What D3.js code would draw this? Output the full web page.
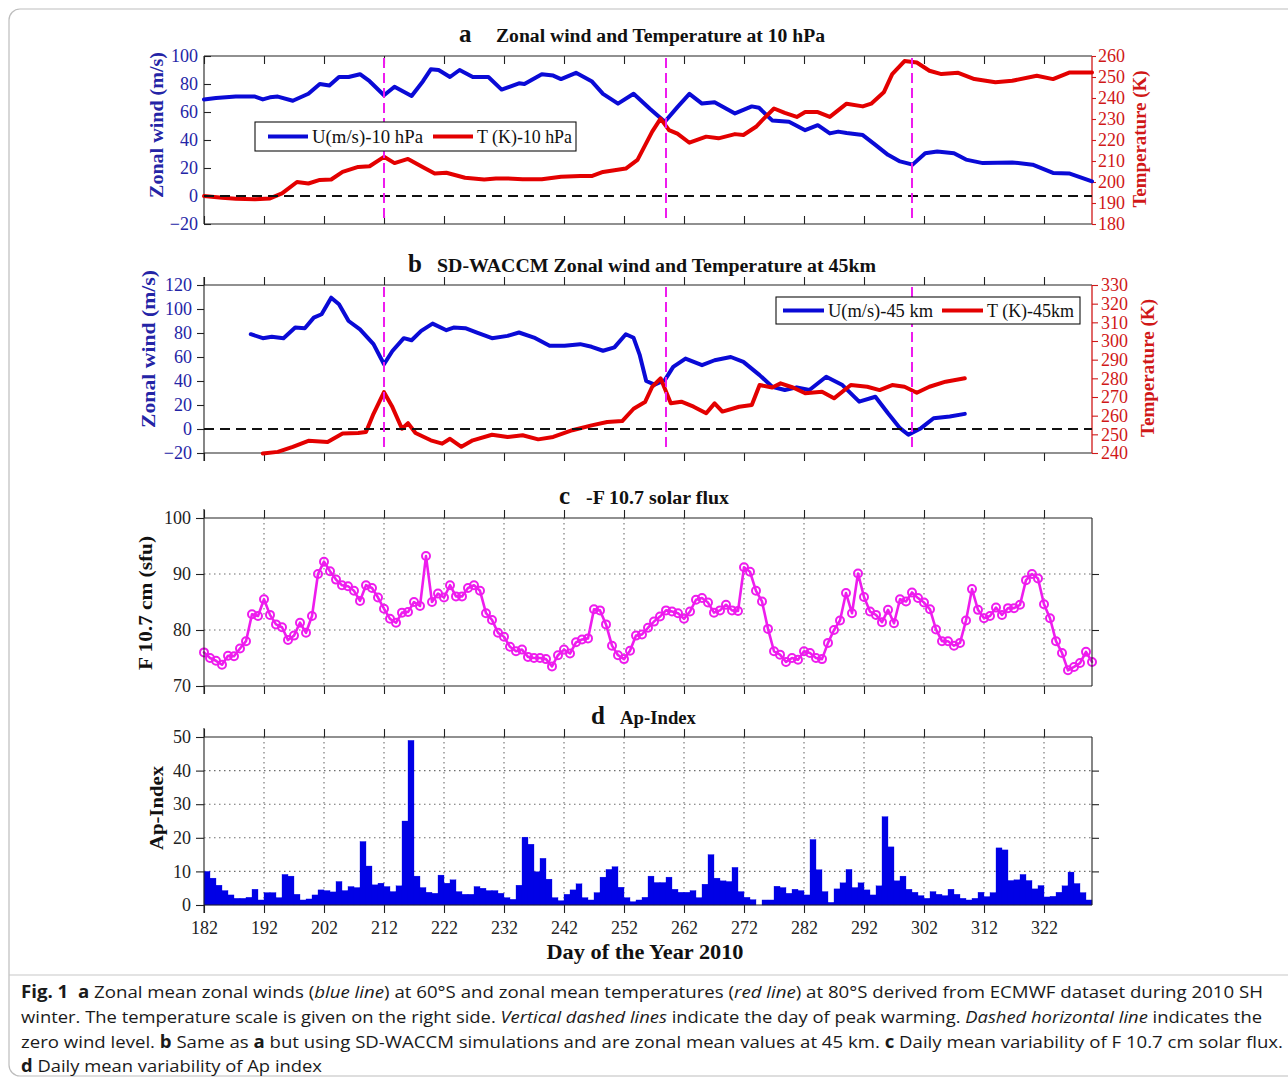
<!DOCTYPE html>
<html>
<head>
<meta charset="utf-8">
<script src="https://cdn.jsdelivr.net/npm/d3@7"></script>
<style>
  body { margin: 0; background: #fff; }
  svg { display: block; }
</style>
</head>
<body>
<svg id="fig" width="1288" height="1084"></svg>
<script>
// ---------------- data ----------------
const dayTicks = [182, 192, 202, 212, 222, 232, 242, 252, 262, 272, 282, 292, 302, 312, 322];
const peakWarmingDays = [212, 259, 300];

// (a) ECMWF 10 hPa: zonal wind at 60°S (m/s), [day, value]
const wind10hPa = [[182,69],[184,70],[187.3,71],[190.5,71],[191.8,69],[193,70.5],[194.3,71],[196.8,68],[199.4,73],[201.3,80],[202.9,79],[204.5,85],[206.1,85],[208,87],[209.6,82],[212,72],[213.75,78],[216.6,71.5],[218.5,82],[219.8,90.5],[221.1,90],[223,85],[224.6,90],[226.8,85],[229.4,85],[231.6,76],[234.5,80.5],[235.4,80],[238.3,87],[240.2,86],[241.5,83.5],[244,88],[246.6,82],[248.5,73],[251,66],[253.6,73],[256.4,62],[258.8,53],[260.9,63.5],[262.9,73],[265,66],[267.1,67],[270.5,59],[273.3,64],[274.5,63],[276.7,54],[279.5,53],[282.2,47],[284.3,50.6],[286.3,44.7],[287.7,46],[289.1,45],[291.8,43.5],[293.9,36.5],[296,29.4],[298,24.7],[300.1,22.4],[302.2,30.6],[304.2,31.8],[307,30.6],[309,26],[311.8,23.5],[316.7,24],[320.1,22.4],[323.5,16.5],[326.3,16],[330,10.5]];

// (a) ECMWF 10 hPa: zonal mean temperature at 80°S (K)
const temp10hPa = [[182,193.3],[185,192.5],[187.3,192],[190.5,191.8],[193,192.2],[195,194.6],[197.5,200],[199.4,199.3],[201.3,201],[203.2,201.2],[205.1,204.8],[207.7,207.2],[209.6,207.5],[212,212],[213.75,209],[216,211],[218.5,207],[220.45,204],[222.4,204.4],[225.5,202],[228.7,201.2],[230.65,201.7],[232.6,201.7],[235.1,201.3],[238.3,201.3],[241.5,202.5],[244.7,202.8],[246.6,202.8],[248.5,204.8],[250.4,205.6],[252.3,206.4],[254.25,210.5],[256.7,224],[258.1,230.2],[259.5,224.7],[260.9,223],[262.9,218.7],[265.7,221.6],[267.75,220.8],[270.5,222.8],[271.9,222.4],[274,226.3],[275.3,230.2],[277,235],[278.8,232.9],[280.8,231],[282.2,233.3],[284.3,233.3],[286.3,231],[289.1,237.3],[291.8,236],[293.2,237.3],[295.3,242.7],[296.7,251.4],[298.75,257.6],[300.8,256.9],[302.9,253],[304.9,251.4],[307.7,252],[310.4,249],[313.9,247.5],[316.7,248.2],[320.8,250.6],[323.5,249],[326.3,252.2],[330,252.2]];

// (b) SD-WACCM 45 km: zonal wind (m/s)
const wind45km = [[189.8,79],[191.8,75.7],[193.3,76.8],[195.25,75.7],[197.2,84.5],[198.8,84],[200.3,92.8],[201.6,95.6],[203.2,109.4],[204.5,104],[206.1,90],[208,83],[210.25,70.7],[212,54],[213.4,65],[215.3,75.7],[216.6,74],[218.2,81.8],[220.1,87.8],[222.4,82.3],[223.6,84.5],[225.55,84],[227.5,80.4],[230,75.7],[232.6,77.6],[234.5,80.4],[237,76.2],[239.6,69.3],[242.1,69.3],[244.7,70.7],[246.6,68.5],[248.5,65.2],[250.4,68],[252.3,79],[253.6,76],[254.6,62],[255.7,40],[257.1,37],[258.8,40.7],[260.2,51.8],[262.25,58.7],[265,53.2],[267.1,57.3],[269.8,60],[271.9,55.9],[274.6,44.9],[276.7,35.2],[278.8,32.5],[280.8,34.7],[282.9,32.5],[285.7,43.5],[288.4,36.6],[291.2,22.8],[293.9,26.9],[296,13.1],[298,0.7],[299.4,-4.8],[301.5,0.7],[303.6,9],[306.3,10.4],[308.8,12.6]];

// (b) SD-WACCM 45 km: temperature (K)
const temp45km = [[191.8,239.7],[194.3,240.6],[196.8,243.3],[199.4,246.5],[202.6,245.9],[205.1,250.4],[207.7,250.7],[209,251.2],[210.25,261],[212,272.6],[213.4,264.6],[215,253],[216,256],[217.25,250.7],[219.8,246.8],[221.7,245],[223,247.6],[224.9,243.3],[226.8,246.8],[230,249.8],[232.6,248.6],[235.1,249.5],[237.7,247.3],[240.2,248.6],[243.4,252.2],[246.6,254.8],[249.2,256.6],[251.7,257.1],[253.6,263.7],[255.5,267.3],[256.7,275.5],[258.1,280],[259.8,266.6],[261.55,267.5],[263.6,264.8],[265.7,261.3],[267.1,266.6],[268.4,262.2],[271.2,264.8],[273.3,265.7],[274.6,276.4],[276.7,275.1],[278.1,277.3],[280.15,275.1],[282.2,272],[285,272.8],[287,269.3],[289.8,276.4],[292.55,275.5],[294.6,273.7],[296.7,276.4],[298.75,275.5],[300.8,272.3],[302.9,275.5],[305.6,278.2],[308.8,280]];

// (c) daily F10.7 cm solar flux (sfu), days 182..330
const f107FirstDay = 182;
const f107 = [76,75,74.5,73.8,75.4,75.3,76.7,78,82.8,82.5,85.5,82.7,81,80.5,78.2,79,81.3,79.5,82.5,90,
  92.2,90.5,89,88,87.8,87,85.2,88,87.5,85.8,83.8,82,81.3,83.1,83.2,85,84.3,93.2,85,86.5,
  85.8,88,86,86,87.5,88,87,83,81.8,79.5,78.8,77,76.2,76.5,75.2,75,75,74.8,73.5,75.5,
  76.5,75.8,77.8,78.3,78.5,83.7,83.5,81,77.2,75.5,74.8,76.3,79,79.2,80.4,81.5,82.4,83.5,83.3,83,
  82,83.3,85.4,85.7,84.9,83.1,83.5,84.5,83.5,83.4,91.2,90.4,87,85.1,80.2,76.2,75.6,74.3,75,74.7,
  76.2,75.9,75,74.8,77.7,80,81.7,86.6,83,90.1,85.9,83.3,82.7,81.4,83.6,81.2,85.5,85.1,86.7,85.7,
  84.9,83.7,80.1,78,78,77.2,77.7,81.7,87.3,83.6,82.1,82.5,84,82.7,83.9,83.9,84.5,88.9,90,89.2,
  84.6,82.1,78,75.9,72.8,73.4,74.1,76.1,74.3];

// (d) daily Ap index, days 182..329
const apFirstDay = 182;
const apIndex = [10,8,5.9,4.3,3,2,2,2.3,4.7,1.5,3.7,3.7,2.2,9.1,8.6,3.2,1.5,1.8,3,4.5,
  4.3,3.9,7,4.3,5.5,5.2,18.9,11.6,6,6.5,5.5,4,5.7,25,49,8.6,5.2,3.8,3.5,8.9,
  6.5,7.5,4,3.2,3.2,5.5,5,4.3,4.3,3.5,2.2,1.7,5.9,20.2,18.1,9.9,13.9,7.7,2.2,1.3,
  3.2,4.5,6.3,2.2,1.5,3.7,8.3,10.6,11.4,5.3,2.2,1,1.5,2.3,8.6,6.7,6.7,8.3,4.7,3.8,
  3.8,4.3,2.2,6.2,15,8,7.2,7,11.2,4,2.3,1.6,0,1.5,1.5,5.6,5.2,3.5,4.7,4.3,
  3,19.5,10.5,4,0.8,4.8,6.6,10.6,5.2,6.6,4.5,3,5.7,26.3,17.3,7.2,8.6,4.7,3.8,2.8,
  2,4,3.2,2.8,4.7,3.2,2,1.5,2,3.8,2.5,3.7,17,16.4,7.3,7.5,9.1,7.3,4.8,5.8,
  2.4,2.6,3.8,5.7,9.8,6.4,3.7,1.5];

const windTicksA = [-20, 0, 20, 40, 60, 80, 100];
const tempTicksA = [180, 190, 200, 210, 220, 230, 240, 250, 260];
const windTicksB = [-20, 0, 20, 40, 60, 80, 100, 120];
const tempTicksB = [240, 250, 260, 270, 280, 290, 300, 310, 320, 330];
const fluxTicks = [70, 80, 90, 100];
const apTicks = [0, 10, 20, 30, 40, 50];

// ---------------- layout & style ----------------
const svg = d3.select("#fig");
const SERIF = "'Liberation Serif','Times New Roman',serif";
const SANS = "'Liberation Sans Narrow','Open Sans','Liberation Sans',sans-serif";
const BLUE = "#0a0ad6", RED = "#e30000", MAG = "#ee1cee", BAR = "#0000e6";
const BLUE_TXT = "#2424a6", RED_TXT = "#d01818";
const AXIS = "#222";
const L = 204, R = 1092, PH = 168;
const tops = { a: 56, b: 285, c: 518, d: 737 };

const x = d3.scaleLinear().domain([182, 330]).range([L, R]);

function yScale(domain, top) {
  return d3.scaleLinear().domain(domain).range([top + PH, top]);
}
const yWindA = yScale([-20, 100], tops.a), yTempA = yScale([180, 260], tops.a);
const yWindB = yScale([-20, 120], tops.b), yTempB = yScale([240, 330], tops.b);
const yFlux = yScale([70, 100], tops.c);
const yAp = yScale([0, 50], tops.d);

// outer figure border and caption separator
svg.append("rect").attr("x", 9).attr("y", 9).attr("width", 1320).attr("height", 1067)
  .attr("rx", 11).attr("fill", "none").attr("stroke", "#bdbdbd").attr("stroke-width", 1.2);
svg.append("line").attr("x1", 9).attr("x2", 1288).attr("y1", 975).attr("y2", 975)
  .attr("stroke", "#c8c8c8").attr("stroke-width", 1.2);

function styleTicks(sel, color, size) {
  sel.select(".domain").remove();
  sel.selectAll(".tick line").attr("stroke", color).attr("stroke-width", 1.1);
  sel.selectAll(".tick text").attr("fill", color).attr("font-family", SERIF)
    .attr("font-size", size || 18);
}

function xTickRow(y, axisFn, len, labels) {
  const ax = axisFn(x).tickValues(dayTicks).tickSize(len).tickSizeOuter(0);
  if (!labels) ax.tickFormat("");
  else ax.tickFormat(d3.format("d")).tickPadding(8);
  svg.append("g").attr("transform", `translate(0,${y})`).call(ax).call(s => styleTicks(s, AXIS, 18));
}

function hline(y, x1, x2, color, w) {
  svg.append("line").attr("x1", x1).attr("x2", x2).attr("y1", y).attr("y2", y)
    .attr("stroke", color).attr("stroke-width", w || 1.1);
}
function vline(xp, y1, y2, color, w) {
  svg.append("line").attr("x1", xp).attr("x2", xp).attr("y1", y1).attr("y2", y2)
    .attr("stroke", color).attr("stroke-width", w || 1.1);
}

function panelTitle(letter, letterX, text, textX, textW, baseline) {
  svg.append("text").attr("x", letterX).attr("y", baseline).attr("font-family", SERIF)
    .attr("font-weight", 700).attr("font-size", 25).attr("fill", "#111").text(letter);
  svg.append("text").attr("x", textX).attr("y", baseline).attr("font-family", SERIF)
    .attr("font-weight", 700).attr("font-size", 18).attr("fill", "#111")
    .attr("textLength", textW).attr("lengthAdjust", "spacingAndGlyphs").text(text);
}

function axisTitle(text, cx, cy, len, color) {
  svg.append("text").attr("transform", `translate(${cx},${cy}) rotate(-90)`)
    .attr("text-anchor", "middle").attr("dominant-baseline", "central")
    .attr("font-family", SERIF).attr("font-weight", 700).attr("font-size", 19)
    .attr("fill", color).attr("textLength", len).attr("lengthAdjust", "spacingAndGlyphs").text(text);
}

function seriesLine(data, y, color, width) {
  svg.append("path").datum(data)
    .attr("d", d3.line().x(d => x(d[0])).y(d => y(d[1])))
    .attr("fill", "none").attr("stroke", color).attr("stroke-width", width)
    .attr("stroke-linejoin", "round").attr("stroke-linecap", "round");
}

function zeroLine(y) {
  svg.append("line").attr("x1", L).attr("x2", R).attr("y1", y(0)).attr("y2", y(0))
    .attr("stroke", "#111").attr("stroke-width", 2).attr("stroke-dasharray", "10,6");
}
function warmingLines(top) {
  svg.selectAll(null).data(peakWarmingDays).enter().append("line")
    .attr("x1", d => x(d)).attr("x2", d => x(d))
    .attr("y1", top + 2).attr("y2", top + PH - 2)
    .attr("stroke", MAG).attr("stroke-width", 2).attr("stroke-dasharray", "10,5");
}

function legend(bx, by, bw, bh, items) {
  svg.append("rect").attr("x", bx).attr("y", by).attr("width", bw).attr("height", bh)
    .attr("fill", "#fff").attr("stroke", "#111").attr("stroke-width", 1.1);
  const cy = by + bh / 2;
  items.forEach(it => {
    svg.append("line").attr("x1", it.x1).attr("x2", it.x2).attr("y1", cy).attr("y2", cy)
      .attr("stroke", it.color).attr("stroke-width", 4);
    svg.append("text").attr("x", it.tx).attr("y", cy + 6).attr("font-family", SERIF)
      .attr("font-size", 18).attr("fill", "#111").attr("textLength", it.tw)
      .attr("lengthAdjust", "spacingAndGlyphs").text(it.label);
  });
}

// ---------------- panel a ----------------
{
  const top = tops.a, bot = top + PH;
  svg.append("g").attr("transform", `translate(${L},0)`)
    .call(d3.axisLeft(yWindA).tickValues(windTicksA).tickSize(-7).tickPadding(6))
    .call(s => styleTicks(s, BLUE_TXT, 18))
    .call(s => s.selectAll(".tick line").attr("stroke", AXIS));
  svg.append("g").attr("transform", `translate(${R},0)`)
    .call(d3.axisRight(yTempA).tickValues(tempTicksA).tickSize(4).tickPadding(2))
    .call(s => styleTicks(s, RED_TXT, 18));
  xTickRow(top, d3.axisTop, -8, false);
  xTickRow(bot, d3.axisBottom, -8, false);
  hline(top, L, R, AXIS); hline(bot, L, R, AXIS);
  vline(L, top, bot, AXIS); vline(R, top, bot, RED_TXT, 1.3);

  seriesLine(wind10hPa, yWindA, BLUE, 4);
  seriesLine(temp10hPa, yTempA, RED, 4);
  zeroLine(yWindA);
  warmingLines(top);
  legend(255, 122, 321, 29, [
    { x1: 268, x2: 308, color: BLUE, tx: 312, tw: 111, label: "U(m/s)-10 hPa" },
    { x1: 433, x2: 473, color: RED, tx: 477, tw: 95, label: "T (K)-10 hPa" }
  ]);
  panelTitle("a", 459, "Zonal wind and Temperature at 10 hPa", 496, 329, 42);
  axisTitle("Zonal wind (m/s)", 156, 125, 146, BLUE_TXT);
  axisTitle("Temperature (K)", 1139, 139, 137, RED_TXT);
}

// ---------------- panel b ----------------
{
  const top = tops.b, bot = top + PH;
  svg.append("g").attr("transform", `translate(${L},0)`)
    .call(d3.axisLeft(yWindB).tickValues(windTicksB).tickSize(7).tickPadding(5))
    .call(s => styleTicks(s, BLUE_TXT, 18))
    .call(s => s.selectAll(".tick line").attr("stroke", AXIS));
  svg.append("g").attr("transform", `translate(${R},0)`)
    .call(d3.axisRight(yTempB).tickValues(tempTicksB).tickSize(6).tickPadding(3))
    .call(s => styleTicks(s, RED_TXT, 18));
  xTickRow(top, d3.axisTop, 8, false);
  xTickRow(bot, d3.axisBottom, 8, false);
  hline(top, L, R, AXIS); hline(bot, L, R, AXIS);
  vline(L, top - 8, bot + 8, AXIS); vline(R, top, bot, RED_TXT, 1.3);

  seriesLine(wind45km, yWindB, BLUE, 4);
  seriesLine(temp45km, yTempB, RED, 4);
  zeroLine(yWindB);
  warmingLines(top);
  legend(776, 297, 304, 27, [
    { x1: 783, x2: 824, color: BLUE, tx: 828, tw: 105, label: "U(m/s)-45 km" },
    { x1: 942, x2: 983, color: RED, tx: 987, tw: 87, label: "T (K)-45km" }
  ]);
  panelTitle("b", 408, "SD-WACCM Zonal wind and Temperature at 45km", 437, 439, 272);
  axisTitle("Zonal wind (m/s)", 148, 349, 158, BLUE_TXT);
  axisTitle("Temperature (K)", 1147, 368, 138, RED_TXT);
}

// ---------------- shared frame for panels c, d ----------------
function gridFrame(top, y, ticks, gridVals) {
  const bot = top + PH;
  const grid = svg.append("g").attr("stroke", "#6d6d6d").attr("stroke-width", 1.1)
    .attr("stroke-dasharray", "1.5,3.5");
  grid.selectAll(null).data(dayTicks.slice(1)).enter().append("line")
    .attr("x1", d => x(d)).attr("x2", d => x(d)).attr("y1", top).attr("y2", bot);
  grid.selectAll(null).data(gridVals).enter().append("line")
    .attr("x1", L).attr("x2", R).attr("y1", d => y(d)).attr("y2", d => y(d));
}
function frameAxes(top, y, ticks, innerVals, xLabels) {
  const bot = top + PH;
  svg.append("g").attr("transform", `translate(${L},0)`)
    .call(d3.axisLeft(y).tickValues(ticks).tickSize(8).tickPadding(5))
    .call(s => styleTicks(s, AXIS, 18));
  svg.append("g").attr("transform", `translate(${R},0)`)
    .call(d3.axisRight(y).tickValues(innerVals).tickSize(7).tickFormat(""))
    .call(s => styleTicks(s, AXIS, 18));
  xTickRow(top, d3.axisTop, 8, false);
  xTickRow(bot, d3.axisBottom, 8, xLabels);
  hline(top, L, R, AXIS); hline(bot, L, R, AXIS);
  vline(L, top - 9, bot + 8, AXIS); vline(R, top, bot, AXIS);
}

// ---------------- panel c ----------------
{
  const top = tops.c;
  gridFrame(top, yFlux, fluxTicks, [80, 90]);
  const pts = f107.map((v, i) => [f107FirstDay + i, v]);
  seriesLine(pts, yFlux, MAG, 2.6);
  svg.append("g").selectAll("circle").data(pts).enter().append("circle")
    .attr("cx", d => x(d[0])).attr("cy", d => yFlux(d[1])).attr("r", 4)
    .attr("fill", "none").attr("stroke", MAG).attr("stroke-width", 2);
  frameAxes(top, yFlux, fluxTicks, [80, 90], false);
  panelTitle("c", 559, "-F 10.7 solar flux", 586, 143, 504);
  axisTitle("F 10.7 cm (sfu)", 145, 603, 134, "#111");
}

// ---------------- panel d ----------------
{
  const top = tops.d;
  gridFrame(top, yAp, apTicks, [10, 20, 30, 40]);
  svg.append("g").selectAll("rect").data(apIndex).enter().append("rect")
    .attr("x", (d, i) => x(apFirstDay + i))
    .attr("width", (d, i) => x(apFirstDay + i + 1) - x(apFirstDay + i))
    .attr("y", d => yAp(d)).attr("height", d => yAp(0) - yAp(d))
    .attr("fill", BAR).attr("stroke", BAR).attr("stroke-width", 0.3);
  frameAxes(top, yAp, apTicks, [10, 20, 30, 40], true);
  panelTitle("d", 591, "Ap-Index", 620, 76, 724);
  axisTitle("Ap-Index", 156, 808, 84, "#111");
  svg.append("text").attr("x", 645).attr("y", 959).attr("text-anchor", "middle")
    .attr("font-family", SERIF).attr("font-weight", 700).attr("font-size", 21)
    .attr("fill", "#111").attr("textLength", 197).attr("lengthAdjust", "spacingAndGlyphs")
    .text("Day of the Year 2010");
}

// ---------------- caption ----------------
const captionLines = [
  { y: 998, w: 1242, parts: [["Fig. 1", "b"], ["  ", ""], ["a", "b"], [" Zonal mean zonal winds (", ""], ["blue line", "i"], [") at 60°S and zonal mean temperatures (", ""], ["red line", "i"], [") at 80°S derived from ECMWF dataset during 2010 SH", ""]] },
  { y: 1023, w: 1241, parts: [["winter. The temperature scale is given on the right side. ", ""], ["Vertical dashed lines", "i"], [" indicate the day of peak warming. ", ""], ["Dashed horizontal line", "i"], [" indicates the", ""]] },
  { y: 1048, w: 1262, parts: [["zero wind level. ", ""], ["b", "b"], [" Same as ", ""], ["a", "b"], [" but using SD-WACCM simulations and are zonal mean values at 45 km. ", ""], ["c", "b"], [" Daily mean variability of F 10.7 cm solar flux.", ""]] },
  { y: 1072, w: 301, parts: [["d", "b"], [" Daily mean variability of Ap index", ""]] }
];
captionLines.forEach(line => {
  const t = svg.append("text").attr("x", 21).attr("y", line.y)
    .attr("font-family", SANS).attr("font-size", 17).attr("fill", "#1a1a1a")
    .attr("textLength", line.w).attr("lengthAdjust", "spacingAndGlyphs")
    .attr("xml:space", "preserve").style("white-space", "pre");
  line.parts.forEach(([s, st]) => {
    const ts = t.append("tspan").text(s);
    if (st === "b") ts.attr("font-weight", 700);
    if (st === "i") ts.attr("font-style", "italic");
  });
});
</script>
</body>
</html>
